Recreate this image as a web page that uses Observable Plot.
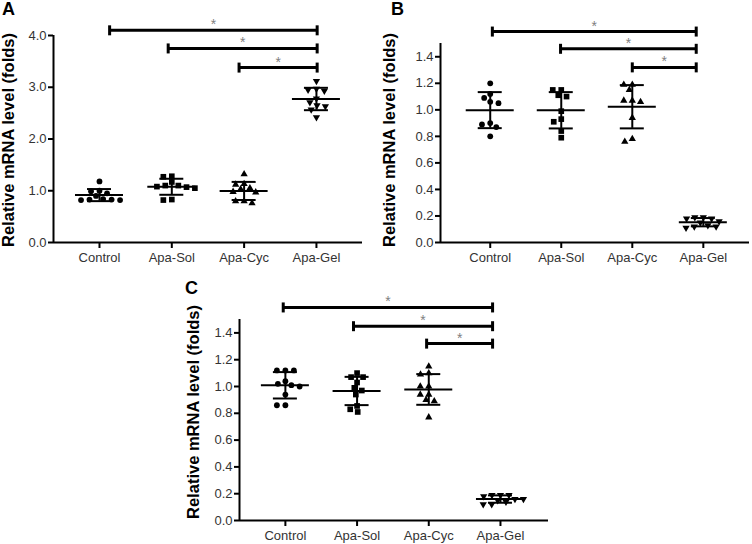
<!DOCTYPE html>
<html><head><meta charset="utf-8">
<script src="https://cdn.jsdelivr.net/npm/d3@7"></script>
<script src="https://cdn.jsdelivr.net/npm/@observablehq/plot@0.6"></script>
<style>
body{margin:0;background:#fff;width:752px;height:544px;position:relative;overflow:hidden;font-family:"Liberation Sans",Arial,sans-serif}
.panel{position:absolute}
.panel svg{overflow:visible}
.panel g[aria-label="y-axis tick label"], .panel g[aria-label="x-axis tick label"]{fill:#333}
</style></head><body>
<div id="A" class="panel" style="left:0;top:0"></div>
<div id="B" class="panel" style="left:376px;top:0"></div>
<div id="C" class="panel" style="left:180px;top:272px"></div>
<script>
// ---------- data ----------
const categories = ["Control", "Apa-Sol", "Apa-Cyc", "Apa-Gel"];
const yLabel = "Relative mRNA level (folds)";
const ticksA = [0, 1, 2, 3, 4];
const ticksBC = [0, 0.2, 0.4, 0.6, 0.8, 1.0, 1.2, 1.4];

// Panel A
const aControl = [1.18, 1.00, 0.99, 0.95, 0.90, 0.84, 0.83, 0.82, 0.82, 0.83];
const aSol     = [1.27, 1.28, 1.17, 1.10, 1.08, 1.07, 1.05, 1.10, 0.83, 0.82];
const aCyc     = [1.32, 1.13, 1.12, 1.05, 1.03, 0.98, 0.97, 0.80, 0.76, 0.80];
const aGel     = [3.12, 2.97, 2.93, 2.95, 2.78, 2.71, 2.65, 2.57, 2.63, 2.42];
const aSigLevel = [4.10, 3.75, 3.38];
const aSigFrom  = [0.14, 0.95, 1.93];   // bracket start (category index units)
const aSigTo    = [3.01, 3.01, 3.01];

// Panel B
const bControl = [1.20, 1.09, 1.12, 1.05, 1.06, 0.90, 0.87, 0.89, 0.80];
const bSol     = [1.15, 1.15, 1.11, 1.10, 0.99, 0.93, 0.91, 0.84, 0.79];
const bCyc     = [1.19, 1.19, 1.15, 1.07, 1.07, 1.06, 0.94, 0.76, 0.78];
const bGel     = [0.19, 0.18, 0.18, 0.19, 0.16, 0.15, 0.12, 0.11, 0.12, 0.13];
const bSigLevel = [1.59, 1.46, 1.32];
const bSigFrom  = [0.03, 0.99, 2.0];
const bSigTo    = [2.9, 2.9, 2.9];

// Panel C
const cControl = [1.12, 1.12, 1.12, 1.04, 1.01, 1.00, 1.02, 0.94, 0.86, 0.86];
const cSol     = [1.07, 1.07, 1.10, 1.03, 0.97, 0.99, 0.94, 0.855, 0.83, 0.81];
const cCyc     = [1.10, 1.15, 1.09, 1.00, 1.00, 0.94, 0.94, 0.90, 0.89, 0.77];
const cGel     = [0.19, 0.18, 0.19, 0.19, 0.16, 0.15, 0.14, 0.16, 0.12, 0.12];
const cSigLevel = [1.59, 1.45, 1.32];
const cSigFrom  = [-0.03, 0.95, 1.97];
const cSigTo    = [2.89, 2.89, 2.89];

// ---------- symbols ----------
const triDown = {draw(ctx, size) {
  const y = -Math.sqrt(size / (Math.sqrt(3) * 3));
  ctx.moveTo(0, -y * 2);
  ctx.lineTo(-Math.sqrt(3) * y, y);
  ctx.lineTo(Math.sqrt(3) * y, y);
  ctx.closePath();
}};
const vbar = {draw(ctx) { ctx.moveTo(0, -5); ctx.lineTo(0, 5); }};
const symbols = ["circle", "square", "triangle", triDown];
const radii = [2.9, 3.2, 2.7, 2.7];

// beeswarm-like horizontal spread (pixels); anisotropic collision distance
function swarm(values, ky, D, vf) {
  const order = values.map((v, i) => i).sort((a, b) => values[b] - values[a]);
  const placed = [], xs = new Array(values.length);
  for (const i of order) {
    const y = values[i] * ky;
    const iv = placed.filter(p => Math.abs(p.y - y) * vf < D).map(p => {
      const w = Math.sqrt(D * D - ((p.y - y) * vf) ** 2); return [p.x - w, p.x + w];
    });
    const cands = [0];
    iv.forEach(([a, b]) => cands.push(a, b));
    cands.sort((a, b) => Math.abs(a) - Math.abs(b) || a - b);
    const x = cands.find(c => iv.every(([a, b]) => c <= a + 1e-9 || c >= b - 1e-9));
    placed.push({x, y}); xs[i] = x;
  }
  return xs;
}

function panel(cfg) {
  const {id, letter, groups, yMax, yTicks, xDomain, width, height, m, sigLevel, sigFrom, sigTo, letterX, letterY, labelX} = cfg;
  const kx = (width - m[3] - m[1]) / (xDomain[1] - xDomain[0]);
  const ky = (height - m[0] - m[2]) / yMax;
  const dotMarks = groups.map((vals, gi) => {
    const xs = swarm(vals, ky, 8.5, 1.5);
    const rows = vals.map((v, j) => ({x: gi + xs[j] / kx, y: v}));
    return Plot.dot(rows, {x: "x", y: "y", symbol: symbols[gi], r: radii[gi], fill: "black", stroke: "none"});
  });
  const stats = groups.map((g, i) => ({i, mean: d3.mean(g), sd: d3.deviation(g)}));
  const mh = 24 / kx, ch = 12 / kx;
  const sig = sigLevel.map((y, k) => ({y, x1: sigFrom[k], x2: sigTo[k]}));
  const sigEnds = sig.flatMap(s => [{x: s.x1, y: s.y}, {x: s.x2, y: s.y}]);
  const svg = Plot.plot({
    width, height,
    marginTop: m[0], marginRight: m[1], marginBottom: m[2], marginLeft: m[3],
    x: {domain: xDomain},
    y: {domain: [0, yMax]},
    style: {fontFamily: "'Liberation Sans', Arial, sans-serif", fontSize: "13px", background: "transparent", color: "black"},
    marks: [
      Plot.axisY({ticks: yTicks, tickFormat: d3.format(".1f"), tickSize: 5, tickPadding: 2, strokeWidth: 2, label: null}),
      Plot.axisX({ticks: [0, 1, 2, 3], tickFormat: i => categories[i], tickSize: 6, tickPadding: 4, strokeWidth: 2, label: null}),
      Plot.ruleX([xDomain[0]], {y1: 0, y2: yMax, strokeWidth: 2}),
      Plot.ruleY([0], {x1: xDomain[0], x2: xDomain[1], strokeWidth: 2}),
      ...dotMarks,
      Plot.ruleY(stats, {y: "mean", x1: d => d.i - mh, x2: d => d.i + mh, strokeWidth: 2}),
      Plot.ruleY(stats, {y: d => d.mean + d.sd, x1: d => d.i - ch, x2: d => d.i + ch, strokeWidth: 2}),
      Plot.ruleY(stats, {y: d => d.mean - d.sd, x1: d => d.i - ch, x2: d => d.i + ch, strokeWidth: 2}),
      Plot.ruleX(stats, {x: "i", y1: d => d.mean - d.sd, y2: d => d.mean + d.sd, strokeWidth: 2}),
      Plot.ruleY(sig, {y: "y", x1: "x1", x2: "x2", strokeWidth: 3}),
      Plot.dot(sigEnds, {x: "x", y: "y", symbol: vbar, stroke: "black", strokeWidth: 3, fill: "none"}),
      Plot.text(sig, {x: d => (d.x1 + d.x2) / 2, y: "y", text: () => "*", fill: "#808080", fontSize: 14, lineAnchor: "bottom", dy: -1})
    ]
  });
  const s = d3.select(svg);
  s.append("text").attr("x", letterX).attr("y", letterY).attr("text-anchor", "start")
    .attr("font-size", 18).attr("font-weight", "bold").attr("fill", "black").text(letter);
  s.append("text").attr("transform", `translate(${labelX},140) rotate(-90)`)
    .attr("text-anchor", "middle").attr("font-size", 16.5).attr("font-weight", "bold").attr("fill", "black").text(yLabel);
  document.getElementById(id).appendChild(svg);
}

panel({id: "A", letter: "A", groups: [aControl, aSol, aCyc, aGel], yMax: 4, yTicks: ticksA,
  xDomain: [-0.636, 3.637], width: 370, height: 272, m: [35, 8, 30, 53],
  sigLevel: aSigLevel, sigFrom: aSigFrom, sigTo: aSigTo, letterX: 2, letterY: 15, labelX: 14});
panel({id: "B", letter: "B", groups: [bControl, bSol, bCyc, bGel], yMax: 1.5, yTicks: ticksBC,
  xDomain: [-0.70, 3.65], width: 376, height: 272, m: [43, 3, 30, 64],
  sigLevel: bSigLevel, sigFrom: bSigFrom, sigTo: bSigTo, letterX: 15, letterY: 15, labelX: 19});
panel({id: "C", letter: "C", groups: [cControl, cSol, cCyc, cGel], yMax: 1.5, yTicks: ticksBC,
  xDomain: [-0.64, 3.67], width: 376, height: 272, m: [47, 8, 24, 59],
  sigLevel: cSigLevel, sigFrom: cSigFrom, sigTo: cSigTo, letterX: 5, letterY: 22, labelX: 19});
</script>
</body></html>
